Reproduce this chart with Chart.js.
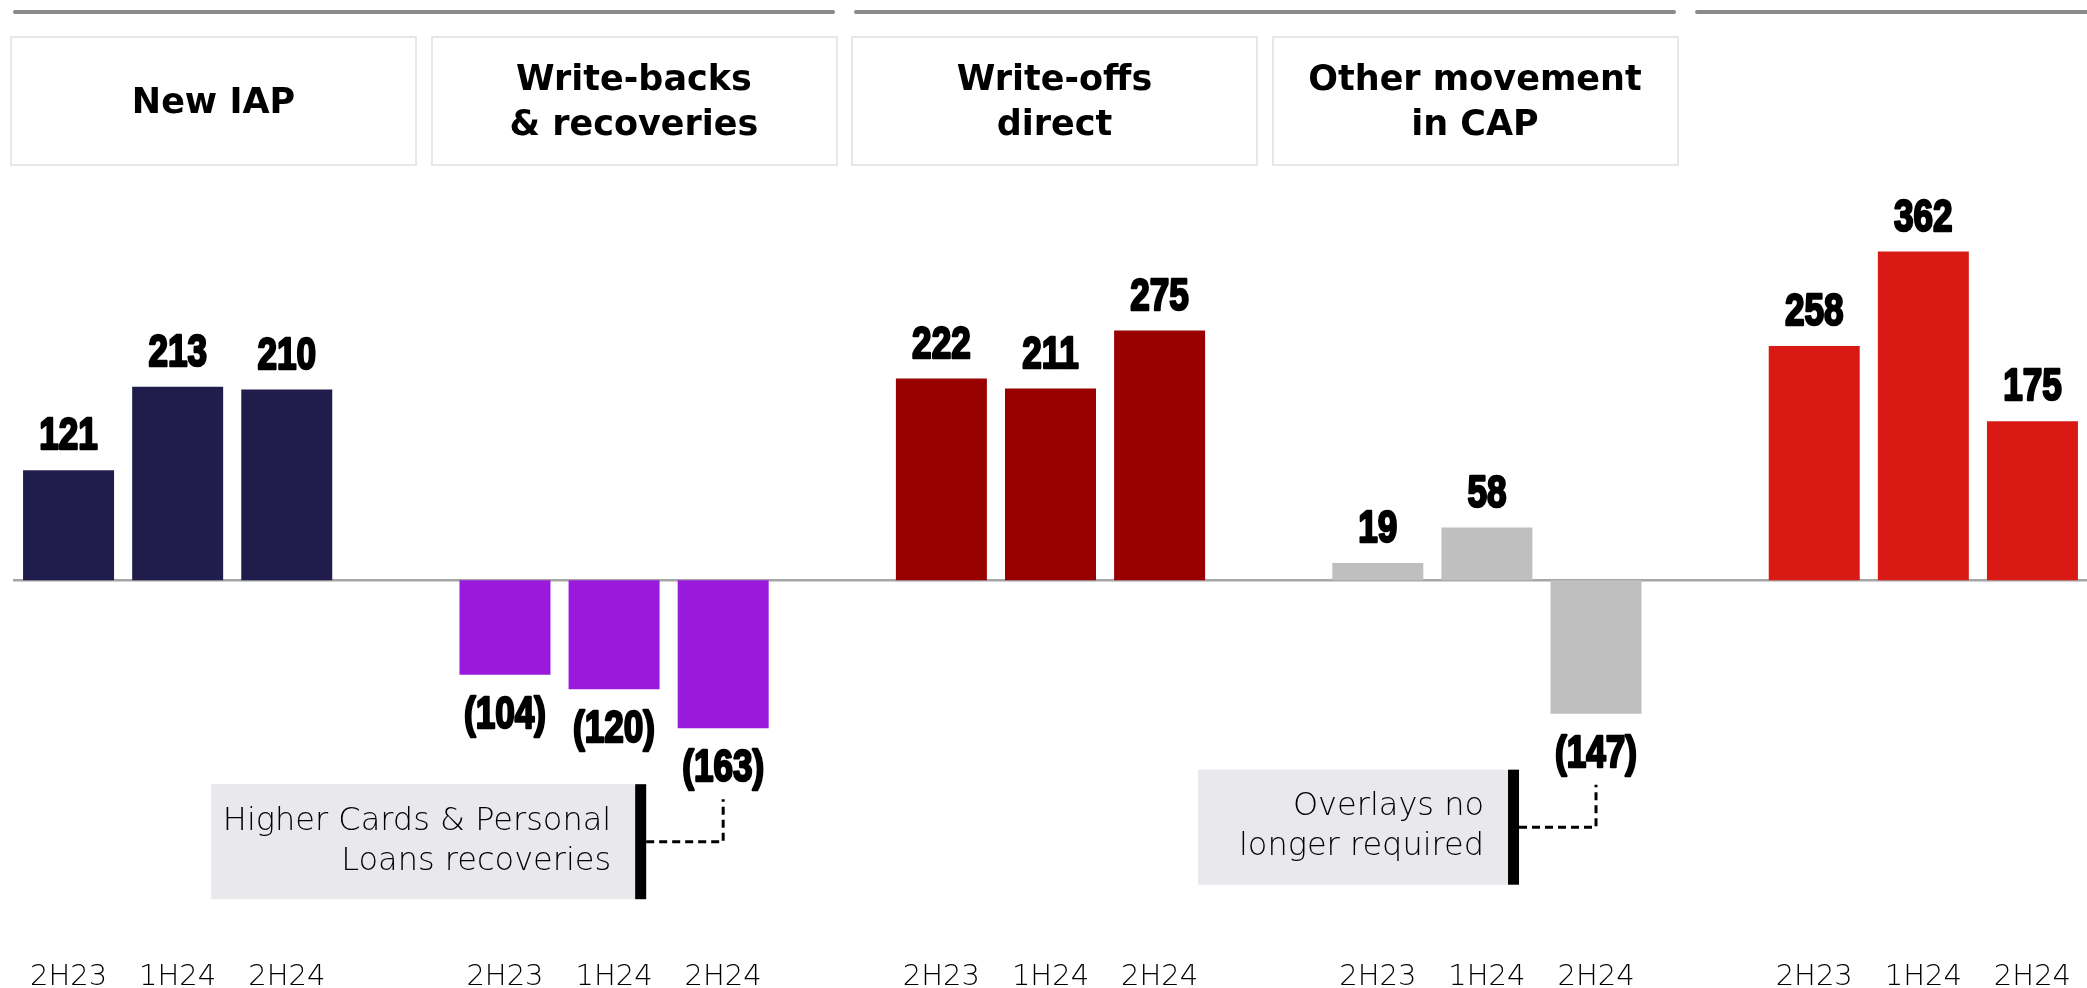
<!DOCTYPE html>
<html>
<head>
<meta charset="utf-8">
<script src="https://cdn.jsdelivr.net/npm/chart.js@4.4.0/dist/chart.umd.min.js"></script>
<style>
  html, body { margin: 0; padding: 0; background: #fff; }
  #wrap { position: relative; width: 2087px; height: 988px; overflow: hidden; }
  #chart { position: absolute; left: 0; top: 0; }
  .rule { position: absolute; top: 10px; height: 4px; background: #8a8a8a; border-radius: 2px; }
  .head {
    position: absolute; top: 36px; width: 407px; height: 130px; box-sizing: border-box;
    border: 2px solid #e6e6eb; display: flex; align-items: center; justify-content: center;
    text-align: center; font: bold 35px 'DejaVu Sans'; line-height: 45px; color: #000;
  }
</style>
</head>
<body>
<div id="wrap">
  <canvas id="chart" width="2087" height="988"></canvas>
</div>
<script>
const periods = ["2H23", "1H24", "2H24"];
const groupTitles = [["New IAP"], ["Write-backs", "& recoveries"], ["Write-offs", "direct"], ["Other movement", "in CAP"], []];
const newIap = [121, 213, 210];
const writeBacks = [-104, -120, -163];
const writeOffs = [222, 211, 275];
const otherMovement = [19, 58, -147];
const totalCharge = [258, 362, 175];
const groupColours = ["#201c4c", "#9a1adb", "#990000", "#bfbfbf", "#d91a14"];
const sections = [[0, 1], [2, 3], [4]];
const notes = [
  { group: 1, period: 2, lines: ["Higher Cards & Personal", "Loans recoveries"], width: 435 },
  { group: 3, period: 2, lines: ["Overlays no", "longer required"], width: 321 }
];

// one slot per period, plus an empty slot between groups
const series = [newIap, writeBacks, writeOffs, otherMovement, totalCharge];
const labels = [], values = [], colours = [];
series.forEach((s, g) => {
  if (g > 0) { labels.push(""); values.push(null); colours.push("transparent"); }
  s.forEach((v, i) => { labels.push(periods[i]); values.push(v); colours.push(groupColours[g]); });
});
const slotOf = (g, p) => g * 4 + p;

// header boxes and the rules above them
const wrap = document.getElementById("wrap");
const colLeft = i => 10 + i * 420.5;
sections.forEach(sec => {
  const r = document.createElement("div");
  r.className = "rule";
  const l = colLeft(sec[0]) + 3;
  r.style.left = l + "px";
  r.style.width = (colLeft(sec[sec.length - 1]) + 407 - 3 - l) + "px";
  wrap.appendChild(r);
});
groupTitles.forEach((t, i) => {
  if (!t.length) return;
  const d = document.createElement("div");
  d.className = "head";
  d.style.left = colLeft(i) + "px";
  d.innerHTML = t.join("<br>");
  wrap.appendChild(d);
});

const zeroLine = {
  id: "zeroLine",
  beforeDatasetsDraw(chart) {
    const ctx = chart.ctx;
    const y = chart.scales.y.getPixelForValue(0);
    ctx.save();
    ctx.strokeStyle = "#a6a6a6";
    ctx.lineWidth = 2.5;
    ctx.beginPath();
    ctx.moveTo(13, y);
    ctx.lineTo(chart.width, y);
    ctx.stroke();
    ctx.restore();
  }
};

const valueLabels = {
  id: "valueLabels",
  afterDatasetsDraw(chart) {
    const ctx = chart.ctx;
    const meta = chart.getDatasetMeta(0);
    ctx.save();
    ctx.font = "bold 45px 'Liberation Sans'";
    ctx.fillStyle = "#000";
    ctx.strokeStyle = "#000";
    ctx.lineWidth = 2.5;
    ctx.lineJoin = "round";
    ctx.textAlign = "center";
    ctx.textBaseline = "alphabetic";
    meta.data.forEach((bar, i) => {
      const v = values[i];
      if (v === null) return;
      const text = v < 0 ? "(" + (-v) + ")" : String(v);
      const y = v < 0 ? bar.y + 53 : bar.y - 21;
      ctx.save();
      ctx.translate(bar.x, y);
      ctx.scale(0.78, 1);
      ctx.strokeText(text, 0, 0);
      ctx.fillText(text, 0, 0);
      ctx.restore();
    });
    ctx.restore();
  }
};

const callouts = {
  id: "callouts",
  afterDraw(chart) {
    const ctx = chart.ctx;
    const meta = chart.getDatasetMeta(0);
    notes.forEach(n => {
      const bar = meta.data[slotOf(n.group, n.period)];
      const right = bar.x - 77;
      const top = bar.y + 56;
      const h = 115;
      const mid = top + h / 2;
      ctx.save();
      ctx.fillStyle = "#e8e8ed";
      ctx.fillRect(right - n.width, top, n.width, h);
      ctx.fillStyle = "#000";
      ctx.fillRect(right - 11, top, 11, h);
      ctx.font = "200 32px 'DejaVu Sans'";
      ctx.textAlign = "right";
      ctx.textBaseline = "middle";
      ctx.fillStyle = "#000";
      n.lines.forEach((t, k) => ctx.fillText(t, right - 35, mid - 20 + k * 40));
      ctx.strokeStyle = "#000";
      ctx.lineWidth = 3;
      ctx.setLineDash([8, 5]);
      ctx.beginPath();
      ctx.moveTo(right, mid);
      ctx.lineTo(bar.x, mid);
      ctx.lineTo(bar.x, bar.y + 71);
      ctx.stroke();
      ctx.restore();
    });
  }
};

new Chart(document.getElementById("chart"), {
  type: "bar",
  data: {
    labels: labels,
    datasets: [{
      data: values,
      backgroundColor: colours,
      borderWidth: 0,
      barPercentage: 0.834,
      categoryPercentage: 1
    }]
  },
  options: {
    responsive: false,
    animation: false,
    layout: { padding: { top: 217, left: 14, right: 0, bottom: 0 } },
    plugins: { legend: { display: false }, tooltip: { enabled: false } },
    scales: {
      x: {
        // hidden tick marks still push the labels down without widening the axis
        grid: { display: false, drawTicks: true, tickLength: 62 },
        border: { display: false },
        ticks: {
          color: "#000",
          padding: 0,
          maxRotation: 0,
          autoSkip: false,
          font: { family: "DejaVu Sans", size: 29, weight: "200" }
        },
        afterFit(scale) { scale.height = 90; }
      },
      y: {
        display: false,
        min: -350,
        max: 400
      }
    }
  },
  plugins: [zeroLine, valueLabels, callouts]
});
</script>
</body>
</html>
